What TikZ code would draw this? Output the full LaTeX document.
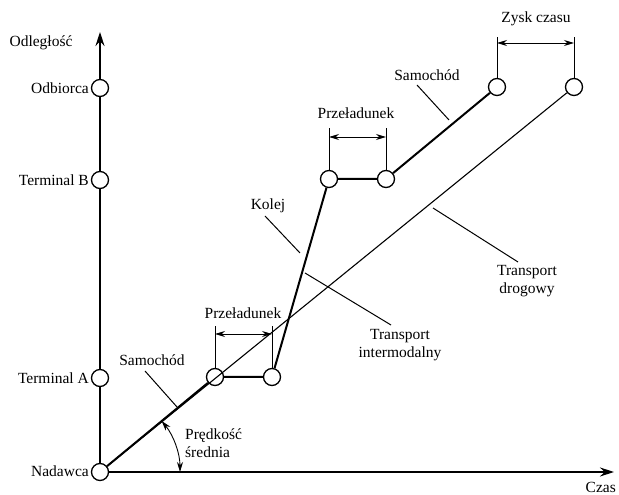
\documentclass[tikz,border=0pt]{standalone}
\usepackage{fontspec}
\setmainfont{Liberation Serif}
\usetikzlibrary{arrows.meta}
\tikzset{
  stop/.style={circle,draw,line width=1.3pt,fill=white,minimum size=17pt,inner sep=0pt},
  lbl/.style={font=\fontsize{15.5}{18}\selectfont,inner sep=1pt},
  axis/.style={line width=1.1pt,-{Stealth[length=14pt,width=9pt]}},
  inter/.style={line width=2pt},
  road/.style={line width=1.1pt},
  thin/.style={line width=1pt},
  span/.style={line width=0.9pt,{Stealth[length=10pt,width=6pt]}-{Stealth[length=10pt,width=6pt]}}
}
\begin{document}
\begin{tikzpicture}[x=1pt,y=1pt]
\useasboundingbox (0,0) rectangle (619,495);

\coordinate (top) at (100,463);
\coordinate (right) at (614,23);

\node[stop] (n) at (100,23) {};
\node[stop] (ta) at (100,117) {};
\node[stop] (tb) at (100,315) {};
\node[stop] (od) at (100,407) {};

\node[stop] (p1) at (215,118) {};
\node[stop] (p2) at (272,118) {};
\node[stop] (r1) at (329,316) {};
\node[stop] (r2) at (386,316) {};
\node[stop] (e1) at (497,408) {};
\node[stop] (e2) at (574,408) {};

\draw[line width=1.1pt] (n) -- (ta) -- (tb) -- (od);
\draw[axis] (od) -- (top);
\draw[axis] (n) -- (right);

\draw[inter] (n) -- (p1) -- (p2) -- (r1) -- (r2) -- (e1);
\draw[road] (n) -- (e2);

\node[lbl] (odl) at (41,452) {Odległość};
\node[lbl,anchor=east] (odb) at (90,407) {Odbiorca};
\node[lbl,anchor=east] (tbl) at (90,315) {Terminal B};
\node[lbl,anchor=east] (tal) at (90,117) {Terminal A};
\node[lbl,anchor=east] (nad) at (90,24) {Nadawca};
\node[lbl,anchor=south east] (czas) at (617,1) {Czas};

\coordinate (p1t) at (215,169);
\coordinate (p2t) at (272,169);
\coordinate (p1a) at (215,161);
\coordinate (p2a) at (272,161);
\draw[thin] (p1) -- (p1t);
\draw[thin] (p2) -- (p2t);
\draw[span] (p1a) -- (p2a);
\node[lbl] (prz1) at (243,182) {Przeładunek};

\coordinate (r1t) at (329,367);
\coordinate (r2t) at (386,367);
\coordinate (r1a) at (329,358);
\coordinate (r2a) at (386,358);
\draw[thin] (r1) -- (r1t);
\draw[thin] (r2) -- (r2t);
\draw[span] (r1a) -- (r2a);
\node[lbl] (prz2) at (356,382) {Przeładunek};

\coordinate (e1t) at (497,458);
\coordinate (e2t) at (574,458);
\coordinate (e1a) at (497,452);
\coordinate (e2a) at (574,452);
\draw[thin] (e1) -- (e1t);
\draw[thin] (e2) -- (e2t);
\draw[span] (e1a) -- (e2a);
\node[lbl] (zysk) at (536,476) {Zysk czasu};

\node[lbl] (sam2) at (427,420) {Samochód};
\coordinate (s2a) at (417,410);
\coordinate (s2b) at (449,375);
\draw[thin] (s2a) -- (s2b);

\node[lbl] (sam1) at (152,135) {Samochód};
\coordinate (s1a) at (145,124);
\coordinate (s1b) at (177,88);
\draw[thin] (s1a) -- (s1b);

\node[lbl] (kol) at (268,289) {Kolej};
\coordinate (ka) at (265,279);
\coordinate (kb) at (300,242);
\draw[thin] (ka) -- (kb);

\node[lbl,align=center] (tint) at (400,150) {Transport\\intermodalny};
\coordinate (ia) at (305,222);
\coordinate (ib) at (391,170);
\draw[thin] (ia) -- (ib);

\node[lbl,align=center] (tdr) at (527,214) {Transport\\drogowy};
\coordinate (da) at (433,287);
\coordinate (db) at (518,233);
\draw[thin] (da) -- (db);

\coordinate (vs) at (180,23);
\draw[span] (vs) arc[start angle=0,end angle=39.6,radius=80];
\node[lbl,align=left,anchor=west] (pred) at (184,52) {Prędkość\\średnia};
\end{tikzpicture}
\end{document}
